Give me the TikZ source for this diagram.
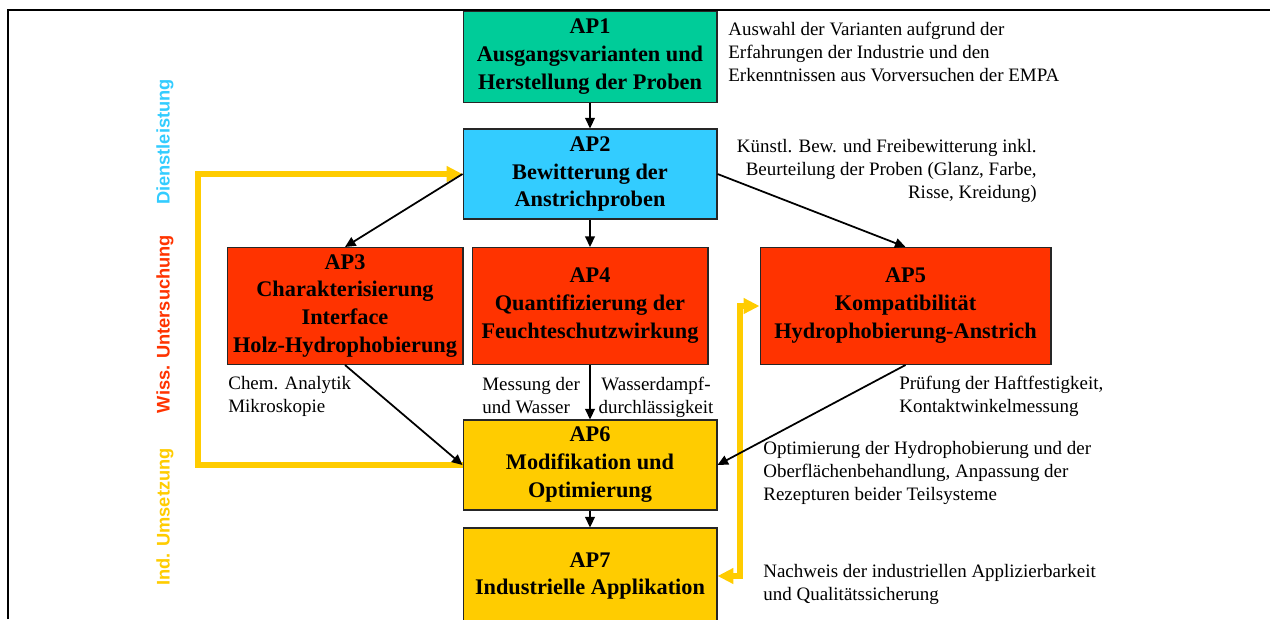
\documentclass[tikz,border=0pt]{standalone}
\usepackage{fontspec}
\setmainfont{Liberation Serif}
\setsansfont{Liberation Sans}
\usetikzlibrary{arrows.meta}

\definecolor{apgreen}{RGB}{0,204,153}
\definecolor{apblue}{RGB}{51,204,255}
\definecolor{apred}{RGB}{255,51,0}
\definecolor{apyellow}{RGB}{255,204,0}

\begin{document}
\begin{tikzpicture}[x=0.02cm, y=-0.02cm,
    box/.style={draw=black!85, line width=0.6pt, align=center, inner sep=0pt,
        font=\fontsize{12.7}{15.9}\selectfont\bfseries},
    note/.style={inner sep=0pt, font=\fontsize{10.8}{13.1}\selectfont},
    conn/.style={line width=1pt, -{Triangle[length=6pt,width=5.5pt]}},
    back/.style={apyellow, line width=3.4pt},
    phase/.style={rotate=90, inner sep=0pt, font=\sffamily\bfseries\fontsize{10.4}{12}\selectfont}]
    \useasboundingbox (0,0) rectangle (1270,619);
    \draw[line width=1.1pt] (8,619) -- (8,10) -- (1270,10);

    % phases on the left
    \foreach \i/\y/\c/\t in {1/142/apblue/Dienstleistung,
                            2/324/apred/Wiss. Untersuchung,
                            3/517/apyellow/Ind. Umsetzung} {
        \node[phase, text=\c] (ph\i) at (165,\y) {\t};
    }

    % work packages
    \node[box, fill=apgreen, minimum width=5.08cm, minimum height=1.82cm] (ap1) at (590,57)
        {AP1\\Ausgangsvarianten und\\Herstellung der Proben};
    \node[box, fill=apblue, minimum width=5.08cm, minimum height=1.8cm] (ap2) at (590,174)
        {AP2\\Bewitterung der\\Anstrichproben};
    \node[box, fill=apred, minimum width=4.72cm, minimum height=2.34cm] (ap3) at (345,306)
        {AP3\\Charakterisierung\\Interface\\Holz-Hydrophobierung};
    \node[box, fill=apred, minimum width=4.72cm, minimum height=2.34cm] (ap4) at (590,306)
        {AP4\\Quantifizierung der\\Feuchteschutzwirkung};
    \node[box, fill=apred, minimum width=5.82cm, minimum height=2.34cm] (ap5) at (905.5,306)
        {AP5\\Kompatibilit\"at\\Hydrophobierung-Anstrich};
    \node[box, fill=apyellow, minimum width=5.08cm, minimum height=1.8cm] (ap6) at (590,465)
        {AP6\\Modifikation und\\Optimierung};
    \node[box, fill=apyellow, minimum width=5.08cm, minimum height=1.92cm] (ap7) at (590,576)
        {AP7\\Industrielle Applikation};

    % notes
    \node[note, anchor=north west, align=left] (n1) at (728,22)
        {Auswahl der Varianten aufgrund der\\Erfahrungen der Industrie und den\\Erkenntnissen aus Vorversuchen der EMPA};
    \node[note, anchor=north east, align=right] (n2) at (1037,139)
        {Künstl. Bew. und Freibewitterung inkl.\\Beurteilung der Proben (Glanz, Farbe,\\Risse, Kreidung)};
    \node[note, anchor=north west, align=left] (n3) at (228,376)
        {Chem. Analytik\\Mikroskopie};
    \node[note, anchor=north west, align=left] (n4a) at (482,377)
        {Messung der\\und Wasser};
    \node[note, anchor=north, align=center] (n4b) at (656,377)
        {Wasserdampf-\\durchlässigkeit};
    \node[note, anchor=north west, align=left] (n5) at (899,376)
        {Prüfung der Haftfestigkeit,\\Kontaktwinkelmessung};
    \node[note, anchor=north west, align=left] (n6) at (763,441)
        {Optimierung der Hydrophobierung und der\\Oberflächenbehandlung, Anpassung der\\Rezepturen beider Teilsysteme};
    \node[note, anchor=north west, align=left] (n7) at (763,564)
        {Nachweis der industriellen Applizierbarkeit\\und Qualitätssicherung};

    % feedback loops
    \coordinate (lp) at (198,465);
    \coordinate (rp) at (740,306);
    \draw[back, -{Triangle[length=9pt,width=8.5pt]}] (ap6.west) -- (lp) |- (ap2.west);
    \draw[back, {Triangle[length=9pt,width=8.5pt]}-{Triangle[length=9pt,width=8.5pt]}]
        (ap5.west) -- (rp) |- (ap7.east);

    % flow
    \foreach \a/\b in {ap1.south/ap2.north, ap2.south/ap4.north, ap2.west/ap3.north,
                       ap2.east/ap5.north, ap3.south/ap6.west, ap4.south/ap6.north,
                       ap5.south/ap6.east, ap6.south/ap7.north} {
        \draw[conn] (\a) -- (\b);
    }
\end{tikzpicture}
\end{document}
